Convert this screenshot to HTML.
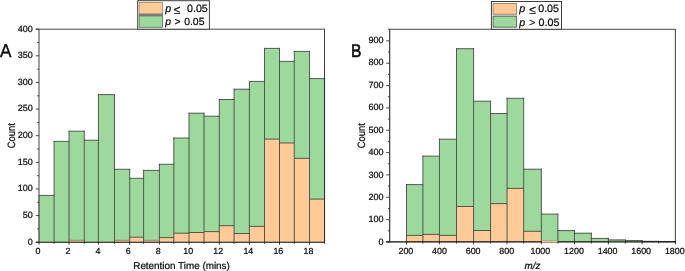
<!DOCTYPE html>
<html><head><meta charset="utf-8"><title>Histograms</title>
<style>html,body{margin:0;padding:0;background:#fff}body{width:685px;height:271px;overflow:hidden}svg{display:block;will-change:transform}text{font-family:"Liberation Sans",sans-serif;fill:#0a0a0a;stroke:#0a0a0a;stroke-width:0.22px;text-rendering:geometricPrecision}</style>
</head><body>
<svg width="685" height="271" viewBox="0 0 685 271">
<rect x="0" y="0" width="685" height="271" fill="#fff"/>
<g id="chartA">
<rect x="39.00" y="195.40" width="15.05" height="46.80" fill="#9dd89c"/>
<rect x="39.00" y="241.70" width="15.05" height="0.50" fill="#fdca98"/>
<rect x="54.05" y="141.40" width="14.95" height="100.80" fill="#9dd89c"/>
<rect x="69.00" y="131.20" width="15.30" height="111.00" fill="#9dd89c"/>
<rect x="69.00" y="240.30" width="15.30" height="1.90" fill="#fdca98"/>
<rect x="84.30" y="140.20" width="14.10" height="102.00" fill="#9dd89c"/>
<rect x="84.30" y="241.70" width="14.10" height="0.50" fill="#fdca98"/>
<rect x="98.40" y="94.60" width="16.10" height="147.60" fill="#9dd89c"/>
<rect x="98.40" y="241.70" width="16.10" height="0.50" fill="#fdca98"/>
<rect x="114.50" y="169.30" width="15.20" height="72.90" fill="#9dd89c"/>
<rect x="114.50" y="240.30" width="15.20" height="1.90" fill="#fdca98"/>
<rect x="129.70" y="178.30" width="13.90" height="63.90" fill="#9dd89c"/>
<rect x="129.70" y="237.20" width="13.90" height="5.00" fill="#fdca98"/>
<rect x="143.60" y="170.40" width="15.80" height="71.80" fill="#9dd89c"/>
<rect x="143.60" y="240.30" width="15.80" height="1.90" fill="#fdca98"/>
<rect x="159.40" y="164.30" width="14.40" height="77.90" fill="#9dd89c"/>
<rect x="159.40" y="237.60" width="14.40" height="4.60" fill="#fdca98"/>
<rect x="173.80" y="138.00" width="15.20" height="104.20" fill="#9dd89c"/>
<rect x="173.80" y="233.20" width="15.20" height="9.00" fill="#fdca98"/>
<rect x="189.00" y="113.20" width="15.00" height="129.00" fill="#9dd89c"/>
<rect x="189.00" y="232.50" width="15.00" height="9.70" fill="#fdca98"/>
<rect x="204.00" y="116.20" width="15.30" height="126.00" fill="#9dd89c"/>
<rect x="204.00" y="231.60" width="15.30" height="10.60" fill="#fdca98"/>
<rect x="219.30" y="99.50" width="14.75" height="142.70" fill="#9dd89c"/>
<rect x="219.30" y="225.70" width="14.75" height="16.50" fill="#fdca98"/>
<rect x="234.05" y="89.20" width="15.35" height="153.00" fill="#9dd89c"/>
<rect x="234.05" y="233.50" width="15.35" height="8.70" fill="#fdca98"/>
<rect x="249.40" y="81.40" width="15.10" height="160.80" fill="#9dd89c"/>
<rect x="249.40" y="226.40" width="15.10" height="15.80" fill="#fdca98"/>
<rect x="264.50" y="48.40" width="15.00" height="193.80" fill="#9dd89c"/>
<rect x="264.50" y="139.10" width="15.00" height="103.10" fill="#fdca98"/>
<rect x="279.50" y="61.40" width="14.80" height="180.80" fill="#9dd89c"/>
<rect x="279.50" y="143.00" width="14.80" height="99.20" fill="#fdca98"/>
<rect x="294.30" y="51.40" width="15.25" height="190.80" fill="#9dd89c"/>
<rect x="294.30" y="158.30" width="15.25" height="83.90" fill="#fdca98"/>
<rect x="309.55" y="78.60" width="15.05" height="163.60" fill="#9dd89c"/>
<rect x="309.55" y="199.10" width="15.05" height="43.10" fill="#fdca98"/>
<path d="M39.00 242.20V194.90M54.05 242.20V140.90M69.00 242.20V130.70M84.30 242.20V130.70M98.40 242.20V94.10M114.50 242.20V94.10M129.70 242.20V168.80M143.60 242.20V169.90M159.40 242.20V163.80M173.80 242.20V137.50M189.00 242.20V112.70M204.00 242.20V112.70M219.30 242.20V99.00M234.05 242.20V88.70M249.40 242.20V80.90M264.50 242.20V47.90M279.50 242.20V47.90M294.30 242.20V50.90M309.55 242.20V50.90M324.60 242.20V78.10M38.50 195.40H54.55M53.55 141.40H69.50M68.50 131.20H84.80M83.80 140.20H98.90M97.90 94.60H115.00M114.00 169.30H130.20M129.20 178.30H144.10M129.70 237.20H143.60M143.10 170.40H159.90M158.90 164.30H174.30M159.40 237.60H173.80M173.30 138.00H189.50M173.80 233.20H189.00M188.50 113.20H204.50M189.00 232.50H204.00M203.50 116.20H219.80M204.00 231.60H219.30M218.80 99.50H234.55M219.30 225.70H234.05M233.55 89.20H249.90M234.05 233.50H249.40M248.90 81.40H265.00M249.40 226.40H264.50M264.00 48.40H280.00M264.50 139.10H279.50M279.00 61.40H294.80M279.50 143.00H294.30M293.80 51.40H310.05M294.30 158.30H309.55M309.05 78.60H325.10M309.55 199.10H324.60" fill="none" stroke="#404040" stroke-width="0.85"/>
<path d="M69.50 240.30H83.80M115.00 240.30H129.20M144.10 240.30H158.90" fill="none" stroke="#8b7560" stroke-width="0.8"/>
<line x1="39.0" y1="28.7" x2="39.0" y2="242.7" stroke="#6e6e6e" stroke-width="1.3"/>
<line x1="35.8" y1="29.2" x2="325.0" y2="29.2" stroke="#4a4a4a" stroke-width="1"/>
<line x1="324.5" y1="29.2" x2="324.5" y2="242.7" stroke="#2a2a2a" stroke-width="0.9"/>
<line x1="35.8" y1="242.25" x2="325.0" y2="242.25" stroke="#0c0c0c" stroke-width="1.2"/>
<line x1="35.8" y1="242.20" x2="39.0" y2="242.20" stroke="#333" stroke-width="0.9"/>
<text x="32.7" y="244.55" font-size="9" text-anchor="end">0</text>
<line x1="37.2" y1="228.89" x2="39.0" y2="228.89" stroke="#333" stroke-width="0.9"/>
<line x1="35.8" y1="215.57" x2="39.0" y2="215.57" stroke="#333" stroke-width="0.9"/>
<text x="32.7" y="217.92" font-size="9" text-anchor="end">50</text>
<line x1="37.2" y1="202.26" x2="39.0" y2="202.26" stroke="#333" stroke-width="0.9"/>
<line x1="35.8" y1="188.95" x2="39.0" y2="188.95" stroke="#333" stroke-width="0.9"/>
<text x="32.7" y="191.30" font-size="9" text-anchor="end">100</text>
<line x1="37.2" y1="175.64" x2="39.0" y2="175.64" stroke="#333" stroke-width="0.9"/>
<line x1="35.8" y1="162.32" x2="39.0" y2="162.32" stroke="#333" stroke-width="0.9"/>
<text x="32.7" y="164.67" font-size="9" text-anchor="end">150</text>
<line x1="37.2" y1="149.01" x2="39.0" y2="149.01" stroke="#333" stroke-width="0.9"/>
<line x1="35.8" y1="135.70" x2="39.0" y2="135.70" stroke="#333" stroke-width="0.9"/>
<text x="32.7" y="138.05" font-size="9" text-anchor="end">200</text>
<line x1="37.2" y1="122.39" x2="39.0" y2="122.39" stroke="#333" stroke-width="0.9"/>
<line x1="35.8" y1="109.07" x2="39.0" y2="109.07" stroke="#333" stroke-width="0.9"/>
<text x="32.7" y="111.42" font-size="9" text-anchor="end">250</text>
<line x1="37.2" y1="95.76" x2="39.0" y2="95.76" stroke="#333" stroke-width="0.9"/>
<line x1="35.8" y1="82.45" x2="39.0" y2="82.45" stroke="#333" stroke-width="0.9"/>
<text x="32.7" y="84.80" font-size="9" text-anchor="end">300</text>
<line x1="37.2" y1="69.14" x2="39.0" y2="69.14" stroke="#333" stroke-width="0.9"/>
<line x1="35.8" y1="55.82" x2="39.0" y2="55.82" stroke="#333" stroke-width="0.9"/>
<text x="32.7" y="58.17" font-size="9" text-anchor="end">350</text>
<line x1="37.2" y1="42.51" x2="39.0" y2="42.51" stroke="#333" stroke-width="0.9"/>
<line x1="35.8" y1="29.20" x2="39.0" y2="29.20" stroke="#333" stroke-width="0.9"/>
<text x="32.7" y="31.55" font-size="9" text-anchor="end">400</text>
<line x1="39.00" y1="242.2" x2="39.00" y2="244.6" stroke="#222" stroke-width="0.9"/>
<text x="37.95" y="254.0" font-size="8.9" text-anchor="middle">0</text>
<line x1="54.05" y1="242.2" x2="54.05" y2="243.79999999999998" stroke="#222" stroke-width="0.9"/>
<line x1="69.00" y1="242.2" x2="69.00" y2="244.6" stroke="#222" stroke-width="0.9"/>
<text x="68.00" y="254.0" font-size="8.9" text-anchor="middle">2</text>
<line x1="84.30" y1="242.2" x2="84.30" y2="243.79999999999998" stroke="#222" stroke-width="0.9"/>
<line x1="98.40" y1="242.2" x2="98.40" y2="244.6" stroke="#222" stroke-width="0.9"/>
<text x="98.06" y="254.0" font-size="8.9" text-anchor="middle">4</text>
<line x1="114.50" y1="242.2" x2="114.50" y2="243.79999999999998" stroke="#222" stroke-width="0.9"/>
<line x1="129.70" y1="242.2" x2="129.70" y2="244.6" stroke="#222" stroke-width="0.9"/>
<text x="128.11" y="254.0" font-size="8.9" text-anchor="middle">6</text>
<line x1="143.60" y1="242.2" x2="143.60" y2="243.79999999999998" stroke="#222" stroke-width="0.9"/>
<line x1="159.40" y1="242.2" x2="159.40" y2="244.6" stroke="#222" stroke-width="0.9"/>
<text x="158.16" y="254.0" font-size="8.9" text-anchor="middle">8</text>
<line x1="173.80" y1="242.2" x2="173.80" y2="243.79999999999998" stroke="#222" stroke-width="0.9"/>
<line x1="189.00" y1="242.2" x2="189.00" y2="244.6" stroke="#222" stroke-width="0.9"/>
<text x="188.21" y="254.0" font-size="8.9" text-anchor="middle">10</text>
<line x1="204.00" y1="242.2" x2="204.00" y2="243.79999999999998" stroke="#222" stroke-width="0.9"/>
<line x1="219.30" y1="242.2" x2="219.30" y2="244.6" stroke="#222" stroke-width="0.9"/>
<text x="218.27" y="254.0" font-size="8.9" text-anchor="middle">12</text>
<line x1="234.05" y1="242.2" x2="234.05" y2="243.79999999999998" stroke="#222" stroke-width="0.9"/>
<line x1="249.40" y1="242.2" x2="249.40" y2="244.6" stroke="#222" stroke-width="0.9"/>
<text x="248.32" y="254.0" font-size="8.9" text-anchor="middle">14</text>
<line x1="264.50" y1="242.2" x2="264.50" y2="243.79999999999998" stroke="#222" stroke-width="0.9"/>
<line x1="279.50" y1="242.2" x2="279.50" y2="244.6" stroke="#222" stroke-width="0.9"/>
<text x="278.37" y="254.0" font-size="8.9" text-anchor="middle">16</text>
<line x1="294.30" y1="242.2" x2="294.30" y2="243.79999999999998" stroke="#222" stroke-width="0.9"/>
<line x1="309.55" y1="242.2" x2="309.55" y2="244.6" stroke="#222" stroke-width="0.9"/>
<text x="308.42" y="254.0" font-size="8.9" text-anchor="middle">18</text>
<line x1="324.60" y1="242.2" x2="324.60" y2="243.79999999999998" stroke="#222" stroke-width="0.9"/>
<text x="181.55" y="268.7" font-size="9.9" text-anchor="middle">Retention Time (mins)</text>
<text transform="translate(14.75,135.75) rotate(-90) scale(0.885,1)" font-size="10.6" text-anchor="middle">Count</text>
<text transform="translate(0.1,56.55) scale(0.915,1)" font-size="18.8" style="stroke-width:0.38px">A</text>
<rect x="137.7" y="0.7" width="71.7" height="28.5" fill="#fff" stroke="#3c3c3c" stroke-width="1"/>
<rect x="138.9" y="13.7" width="23.9" height="2.3" fill="#7c7c7c"/>
<rect x="139.15" y="2.55" width="23.45" height="11.3" fill="#fdca98" stroke="#8f7a64" stroke-width="0.7"/>
<rect x="139.15" y="15.9" width="23.45" height="11.4" fill="#9dd89c" stroke="#566e56" stroke-width="0.8"/>
<rect x="138.9" y="13.9" width="23.9" height="1.9" fill="#7c7c7c"/>
<text x="165.2" y="11.8" font-size="10.7" font-style="italic">p</text>
<text x="173.8" y="13.5" font-size="12">≤</text>
<text x="187.0" y="11.8" font-size="10.7">0.05</text>
<text x="165.2" y="24.6" font-size="10.4" font-style="italic">p</text>
<text x="174.6" y="24.6" font-size="10.4">&gt;</text>
<text x="184.2" y="24.6" font-size="10.4">0.05</text>
</g>
<g id="chartB">
<rect x="406.50" y="184.60" width="16.40" height="57.30" fill="#9dd89c"/>
<rect x="406.50" y="235.40" width="16.40" height="6.50" fill="#fdca98"/>
<rect x="422.90" y="156.10" width="16.55" height="85.80" fill="#9dd89c"/>
<rect x="422.90" y="234.40" width="16.55" height="7.50" fill="#fdca98"/>
<rect x="439.45" y="139.20" width="17.05" height="102.70" fill="#9dd89c"/>
<rect x="439.45" y="235.40" width="17.05" height="6.50" fill="#fdca98"/>
<rect x="456.50" y="48.70" width="17.10" height="193.20" fill="#9dd89c"/>
<rect x="456.50" y="206.50" width="17.10" height="35.40" fill="#fdca98"/>
<rect x="473.60" y="101.20" width="16.95" height="140.70" fill="#9dd89c"/>
<rect x="473.60" y="230.50" width="16.95" height="11.40" fill="#fdca98"/>
<rect x="490.55" y="113.50" width="16.50" height="128.40" fill="#9dd89c"/>
<rect x="490.55" y="203.60" width="16.50" height="38.30" fill="#fdca98"/>
<rect x="507.05" y="98.30" width="16.60" height="143.60" fill="#9dd89c"/>
<rect x="507.05" y="188.40" width="16.60" height="53.50" fill="#fdca98"/>
<rect x="523.65" y="169.20" width="17.70" height="72.70" fill="#9dd89c"/>
<rect x="523.65" y="231.30" width="17.70" height="10.60" fill="#fdca98"/>
<rect x="541.35" y="214.10" width="16.55" height="27.80" fill="#9dd89c"/>
<rect x="557.90" y="230.60" width="16.55" height="11.30" fill="#9dd89c"/>
<rect x="574.45" y="233.20" width="16.90" height="8.70" fill="#9dd89c"/>
<rect x="591.35" y="238.40" width="17.05" height="3.50" fill="#9dd89c"/>
<rect x="608.40" y="239.90" width="16.90" height="2.00" fill="#9dd89c"/>
<rect x="625.30" y="240.60" width="16.80" height="1.30" fill="#9dd89c"/>
<rect x="642.10" y="241.30" width="16.50" height="0.60" fill="#9dd89c"/>
<rect x="658.60" y="241.60" width="16.80" height="0.30" fill="#9dd89c"/>
<path d="M406.50 241.90V184.10M422.90 241.90V155.60M439.45 241.90V138.70M456.50 241.90V48.20M473.60 241.90V48.20M490.55 241.90V100.70M507.05 241.90V97.80M523.65 241.90V97.80M541.35 241.90V168.70M557.90 241.90V213.60M574.45 241.90V230.10M591.35 241.90V232.70M608.40 241.90V237.90M625.30 241.90V239.40M642.10 241.90V240.10M658.60 241.90V240.80M675.40 241.90V241.10M406.00 184.60H423.40M406.50 235.40H422.90M422.40 156.10H439.95M422.90 234.40H439.45M438.95 139.20H457.00M439.45 235.40H456.50M456.00 48.70H474.10M456.50 206.50H473.60M473.10 101.20H491.05M473.60 230.50H490.55M490.05 113.50H507.55M490.55 203.60H507.05M506.55 98.30H524.15M507.05 188.40H523.65M523.15 169.20H541.85M523.65 231.30H541.35M540.85 214.10H558.40M557.40 230.60H574.95M573.95 233.20H591.85M590.85 238.40H608.90M607.90 239.90H625.80M624.80 240.60H642.60M641.60 241.30H659.10M658.10 241.60H675.90" fill="none" stroke="#404040" stroke-width="0.85"/>
<line x1="389.7" y1="28.8" x2="389.7" y2="242.4" stroke="#2a2a2a" stroke-width="1.1"/>
<line x1="388.09999999999997" y1="29.3" x2="675.9" y2="29.3" stroke="#4a4a4a" stroke-width="1"/>
<line x1="675.4" y1="29.3" x2="675.4" y2="242.4" stroke="#2a2a2a" stroke-width="0.9"/>
<line x1="386.09999999999997" y1="241.95000000000002" x2="675.9" y2="241.95000000000002" stroke="#0c0c0c" stroke-width="1.25"/>
<line x1="386.09999999999997" y1="241.95" x2="389.7" y2="241.95" stroke="#333" stroke-width="0.9"/>
<text x="383.45" y="244.82" font-size="9" text-anchor="end">0</text>
<line x1="387.9" y1="230.78" x2="389.7" y2="230.78" stroke="#333" stroke-width="0.9"/>
<line x1="386.09999999999997" y1="219.61" x2="389.7" y2="219.61" stroke="#333" stroke-width="0.9"/>
<text x="383.45" y="222.40" font-size="9" text-anchor="end">100</text>
<line x1="387.9" y1="208.44" x2="389.7" y2="208.44" stroke="#333" stroke-width="0.9"/>
<line x1="386.09999999999997" y1="197.27" x2="389.7" y2="197.27" stroke="#333" stroke-width="0.9"/>
<text x="383.45" y="199.98" font-size="9" text-anchor="end">200</text>
<line x1="387.9" y1="186.10" x2="389.7" y2="186.10" stroke="#333" stroke-width="0.9"/>
<line x1="386.09999999999997" y1="174.93" x2="389.7" y2="174.93" stroke="#333" stroke-width="0.9"/>
<text x="383.45" y="177.56" font-size="9" text-anchor="end">300</text>
<line x1="387.9" y1="163.76" x2="389.7" y2="163.76" stroke="#333" stroke-width="0.9"/>
<line x1="386.09999999999997" y1="152.59" x2="389.7" y2="152.59" stroke="#333" stroke-width="0.9"/>
<text x="383.45" y="155.14" font-size="9" text-anchor="end">400</text>
<line x1="387.9" y1="141.42" x2="389.7" y2="141.42" stroke="#333" stroke-width="0.9"/>
<line x1="386.09999999999997" y1="130.25" x2="389.7" y2="130.25" stroke="#333" stroke-width="0.9"/>
<text x="383.45" y="132.72" font-size="9" text-anchor="end">500</text>
<line x1="387.9" y1="119.08" x2="389.7" y2="119.08" stroke="#333" stroke-width="0.9"/>
<line x1="386.09999999999997" y1="107.91" x2="389.7" y2="107.91" stroke="#333" stroke-width="0.9"/>
<text x="383.45" y="110.30" font-size="9" text-anchor="end">600</text>
<line x1="387.9" y1="96.74" x2="389.7" y2="96.74" stroke="#333" stroke-width="0.9"/>
<line x1="386.09999999999997" y1="85.57" x2="389.7" y2="85.57" stroke="#333" stroke-width="0.9"/>
<text x="383.45" y="87.88" font-size="9" text-anchor="end">700</text>
<line x1="387.9" y1="74.40" x2="389.7" y2="74.40" stroke="#333" stroke-width="0.9"/>
<line x1="386.09999999999997" y1="63.23" x2="389.7" y2="63.23" stroke="#333" stroke-width="0.9"/>
<text x="383.45" y="65.46" font-size="9" text-anchor="end">800</text>
<line x1="387.9" y1="52.06" x2="389.7" y2="52.06" stroke="#333" stroke-width="0.9"/>
<line x1="386.09999999999997" y1="40.89" x2="389.7" y2="40.89" stroke="#333" stroke-width="0.9"/>
<text x="383.45" y="43.04" font-size="9" text-anchor="end">900</text>
<line x1="406.50" y1="241.9" x2="406.50" y2="244.3" stroke="#222" stroke-width="0.9"/>
<text x="405.91" y="254.0" font-size="8.9" text-anchor="middle">200</text>
<line x1="422.90" y1="241.9" x2="422.90" y2="243.5" stroke="#222" stroke-width="0.9"/>
<line x1="439.45" y1="241.9" x2="439.45" y2="244.3" stroke="#222" stroke-width="0.9"/>
<text x="439.52" y="254.0" font-size="8.9" text-anchor="middle">400</text>
<line x1="456.50" y1="241.9" x2="456.50" y2="243.5" stroke="#222" stroke-width="0.9"/>
<line x1="473.60" y1="241.9" x2="473.60" y2="244.3" stroke="#222" stroke-width="0.9"/>
<text x="473.13" y="254.0" font-size="8.9" text-anchor="middle">600</text>
<line x1="490.55" y1="241.9" x2="490.55" y2="243.5" stroke="#222" stroke-width="0.9"/>
<line x1="507.05" y1="241.9" x2="507.05" y2="244.3" stroke="#222" stroke-width="0.9"/>
<text x="506.74" y="254.0" font-size="8.9" text-anchor="middle">800</text>
<line x1="523.65" y1="241.9" x2="523.65" y2="243.5" stroke="#222" stroke-width="0.9"/>
<line x1="541.35" y1="241.9" x2="541.35" y2="244.3" stroke="#222" stroke-width="0.9"/>
<text x="540.35" y="254.0" font-size="8.9" text-anchor="middle">1000</text>
<line x1="557.90" y1="241.9" x2="557.90" y2="243.5" stroke="#222" stroke-width="0.9"/>
<line x1="574.45" y1="241.9" x2="574.45" y2="244.3" stroke="#222" stroke-width="0.9"/>
<text x="573.96" y="254.0" font-size="8.9" text-anchor="middle">1200</text>
<line x1="591.35" y1="241.9" x2="591.35" y2="243.5" stroke="#222" stroke-width="0.9"/>
<line x1="608.40" y1="241.9" x2="608.40" y2="244.3" stroke="#222" stroke-width="0.9"/>
<text x="607.58" y="254.0" font-size="8.9" text-anchor="middle">1400</text>
<line x1="625.30" y1="241.9" x2="625.30" y2="243.5" stroke="#222" stroke-width="0.9"/>
<line x1="642.10" y1="241.9" x2="642.10" y2="244.3" stroke="#222" stroke-width="0.9"/>
<text x="641.19" y="254.0" font-size="8.9" text-anchor="middle">1600</text>
<line x1="658.60" y1="241.9" x2="658.60" y2="243.5" stroke="#222" stroke-width="0.9"/>
<line x1="675.40" y1="241.9" x2="675.40" y2="244.3" stroke="#222" stroke-width="0.9"/>
<text x="674.80" y="254.0" font-size="8.9" text-anchor="middle">1800</text>
<rect x="541.9" y="240.55" width="15.5" height="1.6" fill="#fdca98"/>
<line x1="541.9" y1="240.45" x2="557.4" y2="240.45" stroke="#9a8268" stroke-width="0.5"/>
<rect x="608.9" y="239.9" width="16.0" height="1.4" fill="#6f936f"/>
<rect x="625.8" y="240.5" width="16.0" height="0.9" fill="#526352"/>
<text x="532.45" y="268.9" font-size="9.75" font-style="italic" text-anchor="middle">m/z</text>
<text transform="translate(365.1,135.75) rotate(-90) scale(0.885,1)" font-size="10.6" text-anchor="middle">Count</text>
<text transform="translate(351.0,56.85) scale(0.86,1)" font-size="18.2" style="stroke-width:0.55px">B</text>
<rect x="491.4" y="1.5" width="70.1" height="27.8" fill="#fff" stroke="#3c3c3c" stroke-width="1"/>
<rect x="492.6" y="14.6" width="24.4" height="1.3" fill="#cfcfcf"/>
<rect x="493.1" y="3.6" width="23.5" height="10.6" fill="#fdca98" stroke="#8f7a64" stroke-width="0.85"/>
<rect x="493.1" y="16.25" width="23.5" height="10.9" fill="#9dd89c" stroke="#555f55" stroke-width="0.9"/>
<text x="519.3" y="12.0" font-size="10.7" font-style="italic">p</text>
<text x="529.2" y="13.7" font-size="12">≤</text>
<text x="538.2" y="12.0" font-size="10.7">0.05</text>
<text x="519.3" y="25.7" font-size="10.7" font-style="italic">p</text>
<text x="529.2" y="25.7" font-size="10.7">&gt;</text>
<text x="538.6" y="25.7" font-size="10.7">0.05</text>
</g>
</svg></body></html>
